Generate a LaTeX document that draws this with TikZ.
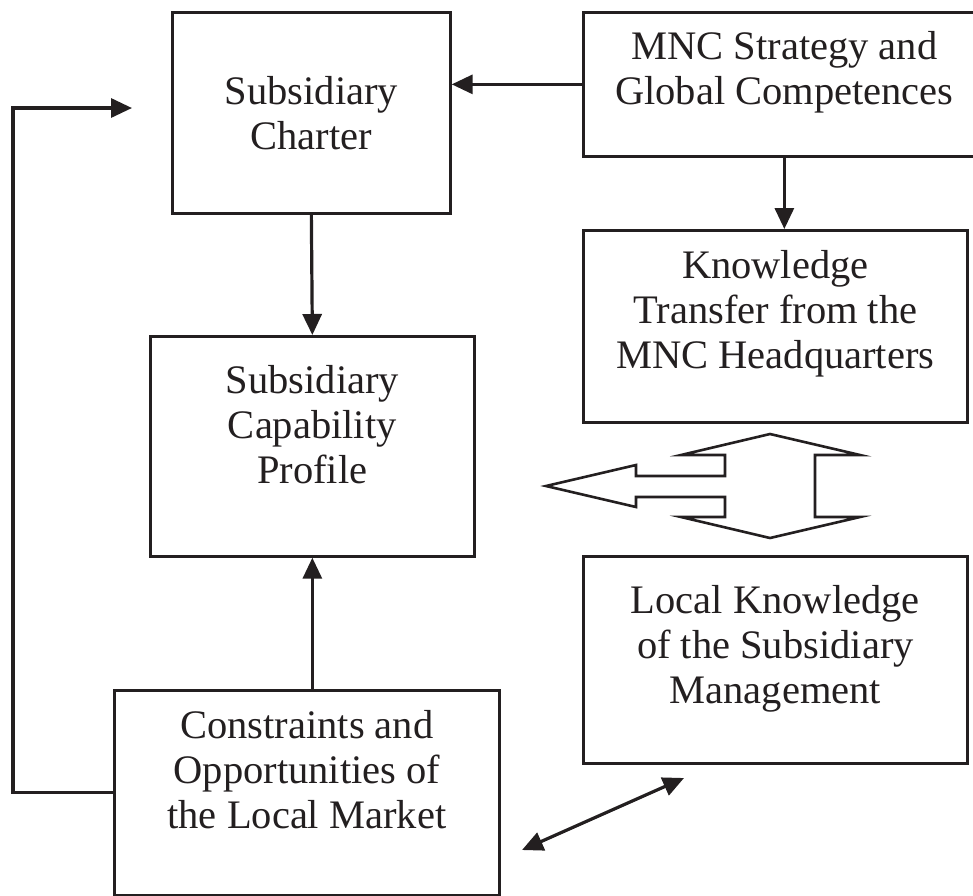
\documentclass[tikz,border=0pt]{standalone}
\usepackage{fontspec}
\setmainfont{Liberation Serif}
\usetikzlibrary{arrows.meta}
\newcommand{\boxtxt}[4]{\parbox[c][#2][t]{#1}{\centering\vspace*{#3}\strut #4\par}}
\definecolor{ink}{RGB}{35,31,32}
\begin{document}
\begin{tikzpicture}[x=1pt,y=-1pt,
  boxnode/.style={draw=ink, line width=2.7pt, inner sep=0pt, anchor=north west,
    font=\fontsize{40.5}{45}\selectfont, text=ink},
  conn/.style={draw=ink, line width=3.2pt, -{Triangle[length=21pt,width=19pt]}},
  dconn/.style={draw=ink, line width=3.2pt, {Triangle[length=21pt,width=19pt]}-{Triangle[length=21pt,width=19pt]}},
  blockarrow/.style={draw=ink, line width=2.6pt, line join=miter}]
\clip (0,0) rectangle (973,895);
\fill[white] (0,0) rectangle (973,895);

\node[boxnode] (charter) at (171,11) {\boxtxt{278pt}{201pt}{60.5pt}{Subsidiary\\Charter}};
\node[boxnode] (mnc) at (582,11) {\boxtxt{402pt}{144pt}{15.5pt}{MNC Strategy and\\Global Competences}};
\node[boxnode] (know) at (582,229) {\boxtxt{384pt}{192pt}{16.5pt}{Knowledge\\Transfer from the\\MNC Headquarters}};
\node[boxnode] (cap) at (149,335) {\boxtxt{324pt}{220pt}{25.5pt}{Subsidiary\\Capability\\Profile}};
\node[boxnode] (local) at (582,555) {\boxtxt{384pt}{207pt}{25.5pt}{Local Knowledge\\of the Subsidiary\\Management}};
\node[boxnode] (cons) at (113,689) {\boxtxt{385pt}{205pt}{16.5pt}{Constraints and\\Opportunities of\\the Local Market}};

\coordinate (fbcorner) at (13,108);
\coordinate (fbend) at (132,108);
\coordinate (da1) at (522,850);
\coordinate (da2) at (684,778);

\draw[conn] (mnc.west) -- (mnc.west -| charter.east);
\draw[conn] (mnc.south) -- (mnc.south |- know.north);
\draw[conn] (charter.south) -- (cap.north);
\draw[conn] (cons.north -| cap.south) -- (cap.south);
\draw[conn] (cons.west) -- (fbcorner |- cons.west) -- (fbcorner) -- (fbend);
\draw[dconn] (da1) -- (da2);

\draw[blockarrow] (770,434) -- (860,455) -- (815,455) -- (815,517) -- (860,517)
  -- (770,538) -- (681,517) -- (725,517) -- (725,497) -- (636,497) -- (636,507)
  -- (546,486) -- (636,465) -- (636,476) -- (725,476) -- (725,455) -- (681,455) -- cycle;
\end{tikzpicture}
\end{document}
